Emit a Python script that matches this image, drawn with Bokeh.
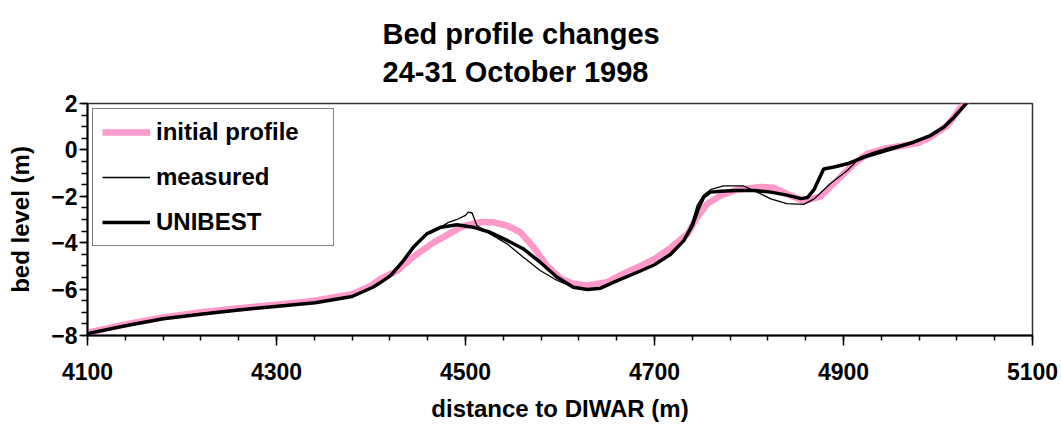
from bokeh.plotting import figure
from bokeh.models import Range1d, FixedTicker
from bokeh.embed import file_html
from bokeh.resources import INLINE

# ---- data ----
title_lines = ["Bed profile changes", "24-31 October 1998"]

x_initial = [4100, 4140, 4180, 4220, 4260, 4300, 4340, 4380, 4400, 4410, 4428, 4445,
             4463, 4481, 4498, 4516, 4530, 4544, 4558, 4572, 4586, 4601, 4614, 4629,
             4650, 4664, 4685, 4700, 4717, 4735, 4745, 4756, 4770, 4787, 4812, 4826,
             4840, 4858, 4876, 4893, 4911, 4925, 4943, 4964, 4979, 4992, 5010, 5027, 5032]
y_initial = [-7.88, -7.52, -7.22, -7.00, -6.83, -6.67, -6.50, -6.22, -5.85, -5.56, -5.20, -4.60,
             -4.08, -3.65, -3.28, -3.12, -3.12, -3.26, -3.55, -4.19, -4.98, -5.56, -5.77, -5.84,
             -5.70, -5.40, -5.00, -4.70, -4.22, -3.62, -2.90, -2.32, -1.97, -1.72, -1.60, -1.63,
             -1.89, -2.21, -2.00, -1.32, -0.60, -0.17, 0.05, 0.19, 0.30, 0.55, 1.05, 1.99, 2.15]

x_measured = [4100, 4140, 4180, 4222, 4260, 4301, 4341, 4380, 4402, 4421, 4433, 4445,
              4459, 4474, 4479, 4482, 4492, 4500, 4503, 4507, 4512, 4526, 4544, 4561,
              4579, 4597, 4614, 4629, 4643, 4657, 4685, 4717, 4731, 4740, 4745, 4752,
              4760, 4773, 4794, 4805, 4823, 4840, 4858, 4869, 4886, 4904, 4918, 4932,
              4950, 4974, 4992, 5006, 5017, 5029, 5032]
y_measured = [-7.90, -7.56, -7.26, -7.05, -6.88, -6.72, -6.57, -6.30, -5.90, -5.38, -4.80, -4.15,
              -3.60, -3.33, -3.20, -3.12, -2.98, -2.82, -2.68, -2.72, -3.26, -3.62, -4.05, -4.62,
              -5.20, -5.63, -5.92, -6.02, -5.98, -5.72, -5.25, -4.55, -3.95, -3.10, -2.40, -1.95,
              -1.70, -1.55, -1.55, -1.75, -2.11, -2.32, -2.35, -2.11, -1.46, -0.89, -0.31, -0.10,
              0.12, 0.35, 0.62, 0.98, 1.41, 1.96, 2.10]

x_unibest = [4100, 4140, 4180, 4222, 4260, 4301, 4341, 4380, 4402, 4410, 4421, 4433,
             4445, 4459, 4474, 4491, 4508, 4526, 4544, 4561, 4579, 4597, 4614, 4629,
             4643, 4657, 4685, 4700, 4717, 4731, 4740, 4747, 4752, 4759, 4770, 4787,
             4805, 4823, 4840, 4855, 4862, 4869, 4879, 4890, 4904, 4922, 4939, 4957,
             4974, 4992, 5006, 5017, 5029, 5032]
y_unibest = [-7.92, -7.58, -7.28, -7.07, -6.90, -6.74, -6.59, -6.32, -5.92, -5.72, -5.41, -4.84,
             -4.19, -3.62, -3.33, -3.23, -3.33, -3.55, -3.90, -4.26, -4.84, -5.49, -5.92, -6.02,
             -5.96, -5.70, -5.22, -4.95, -4.50, -3.91, -3.26, -2.47, -2.04, -1.82, -1.78, -1.75,
             -1.75, -1.82, -1.95, -2.10, -2.05, -1.70, -0.82, -0.74, -0.60, -0.31, -0.10, 0.12,
             0.33, 0.62, 0.98, 1.41, 1.96, 2.10]

x_major_ticks = [4100, 4300, 4500, 4700, 4900, 5100]
x_minor_ticks = list(range(4100, 5101, 40))
y_major_ticks = [-8, -6, -4, -2, 0, 2]
y_minor_ticks = [v / 2 for v in range(-16, 5)]

FONT = "Liberation Sans"

p = figure(width=1061, height=425,
           x_range=Range1d(4100, 5100), y_range=Range1d(-8, 2),
           output_backend="svg", toolbar_location=None,
           min_border_left=87, min_border_right=29,
           min_border_top=103, min_border_bottom=90,
           title="\n".join(title_lines))

p.title.align = "left"
p.title.offset = 295
p.title.standoff = 30
p.title.text_font = FONT
p.title.text_font_style = "bold"
p.title.text_font_size = "29px"
p.title.text_line_height = 1.19
p.title.text_color = "black"

p.grid.visible = False
p.background_fill_color = "white"
p.border_fill_color = "white"
p.outline_line_color = "#333333"
p.outline_line_width = 1.5

p.line(x_initial, y_initial, line_color="#FF99CC", line_width=6.5, legend_label="initial profile")
p.line(x_measured, y_measured, line_color="black", line_width=1.3, legend_label="measured")
p.line(x_unibest, y_unibest, line_color="black", line_width=3.5, legend_label="UNIBEST")

for ax in (p.xaxis[0], p.yaxis[0]):
    ax.axis_line_color = "black"
    ax.axis_line_width = 2
    ax.major_tick_line_color = "black"
    ax.minor_tick_line_color = "black"
    ax.major_tick_line_width = 1.5
    ax.minor_tick_line_width = 1.5
    ax.major_tick_in = 0
    ax.minor_tick_in = 0
    ax.major_label_text_font = FONT
    ax.major_label_text_font_style = "bold"
    ax.major_label_text_font_size = "23px"
    ax.major_label_text_color = "black"
    ax.axis_label_text_font = FONT
    ax.axis_label_text_font_style = "bold"
    ax.axis_label_text_font_size = "24px"
    ax.axis_label_text_color = "black"

p.xaxis.ticker = FixedTicker(ticks=x_major_ticks, minor_ticks=x_minor_ticks)
p.yaxis.ticker = FixedTicker(ticks=y_major_ticks, minor_ticks=y_minor_ticks)
p.xaxis.axis_label = "distance to DIWAR (m)"
p.yaxis.axis_label = "bed level (m)"

p.xaxis.major_tick_out = 10
p.xaxis.minor_tick_out = 5
p.xaxis.major_label_standoff = 17
p.xaxis.axis_label_standoff = 12

p.yaxis.major_tick_out = 8
p.yaxis.minor_tick_out = 6
p.yaxis.major_label_standoff = 2
p.yaxis.axis_label_standoff = 14

lg = p.legend[0]
lg.location = "top_left"
lg.margin = 5
lg.padding = 9
lg.spacing = 17
lg.glyph_width = 48
lg.label_standoff = 6
lg.label_width = 168
lg.label_text_font = FONT
lg.label_text_font_style = "bold"
lg.label_text_font_size = "24px"
lg.label_text_color = "black"
lg.border_line_color = "black"
lg.border_line_width = 1.5
lg.background_fill_color = "white"
lg.background_fill_alpha = 1.0

open("out.html", "w").write(file_html(p, INLINE))
